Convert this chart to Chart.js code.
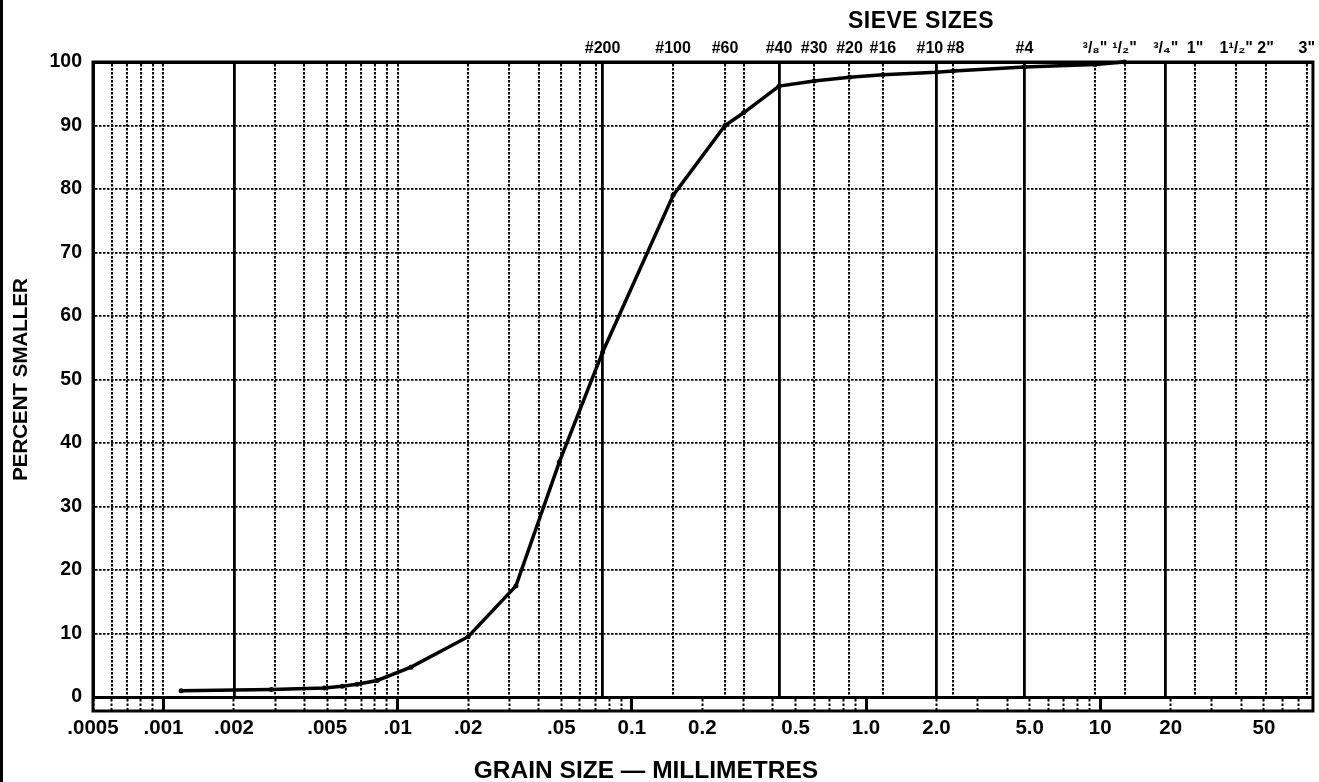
<!DOCTYPE html>
<html>
<head>
<meta charset="utf-8">
<title>Grain size distribution</title>
<script src="https://cdn.jsdelivr.net/npm/chart.js@4.4.1/dist/chart.umd.min.js"></script>
<style>
  html, body { margin: 0; padding: 0; background: #fff; }
  #wrap { position: relative; width: 1319px; height: 782px; }
  #edge { position: absolute; left: 0; top: 0; width: 3px; height: 782px; background: #000; }
  .caption {
    position: absolute;
    font-family: "Liberation Sans", Arial, sans-serif;
    font-weight: bold;
    color: #000;
    white-space: nowrap;
    transform: translate(-50%, -50%);
  }
  #sieve-title { left: 921px; top: 20px; font-size: 23px; letter-spacing: 0.5px; }
  #size-title { left: 646px; top: 770px; font-size: 24.5px; }
</style>
</head>
<body>
<div id="wrap">
  <canvas id="gradation" width="1319" height="782"></canvas>
  <div id="edge"></div>
  <div class="caption" id="sieve-title">SIEVE SIZES</div>
  <div class="caption" id="size-title">GRAIN SIZE — MILLIMETRES</div>
</div>

<script>
// gradation curve: grain diameter (mm) and percent finer by weight
const grainSizes = [0.00119, 0.00289, 0.00486, 0.0058, 0.00671, 0.00818, 0.0114, 0.02, 0.032,
                    0.049, 0.075, 0.15, 0.25, 0.3, 0.425, 0.6, 0.85, 1.18, 2.0, 2.36, 4.75, 9.5, 12.7];
const percentSmaller = [1.0, 1.2, 1.4, 1.7, 2.0, 2.6, 4.7, 9.5, 17.5,
                        37, 54.3, 79, 90, 92, 96.2, 97, 97.6, 98, 98.4, 98.6, 99.2, 99.6, 100];

// millimetre scale along the bottom strip
const mmTicks = [0.0005, 0.0006, 0.0007, 0.0008, 0.0009,
                 0.001, 0.002, 0.003, 0.004, 0.005, 0.006, 0.007, 0.008, 0.009,
                 0.01, 0.02, 0.03, 0.04, 0.05, 0.06, 0.07, 0.08, 0.09,
                 0.1, 0.2, 0.3, 0.4, 0.5, 0.6, 0.7, 0.8, 0.9,
                 1, 2, 3, 4, 5, 6, 7, 8, 9,
                 10, 20, 30, 40, 50, 60, 70];
const mmLabelValues = [0.0005, 0.001, 0.002, 0.005, 0.01, 0.02, 0.05, 0.1, 0.2, 0.5, 1, 2, 5, 10, 20, 50];
const mmLabels = ['.0005', '.001', '.002', '.005', '.01', '.02', '.05', '0.1', '0.2', '0.5',
                  '1.0', '2.0', '5.0', '10', '20', '50'];

// upper grid: fine log lines in the silt/clay range, then the sieve openings
const fineGrid = [0.0006, 0.0007, 0.0008, 0.0009, 0.001,
                  0.002, 0.003, 0.004, 0.005, 0.006, 0.007, 0.008, 0.009,
                  0.01, 0.02, 0.03, 0.04, 0.05, 0.06, 0.07];
const sieveSizes = [0.075, 0.15, 0.25, 0.3, 0.425, 0.6, 0.85, 1.18, 2.0, 2.36, 4.75,
                    9.5, 12.7, 19.05, 25.4, 38.1, 50.8, 76.2];
const sieveLabels = ['#200', '#100', '#60', '', '#40', '#30', '#20', '#16', '#10   ', ' #8', '#4',
                     '³/₈"', '¹/₂"', '³/₄"', '1"', '1¹/₂"', '2"', '3"'];
const heavyLines = [0.002, 0.075, 0.425, 2.0, 4.75, 19.05];

const percentTicks = [0, 10, 20, 30, 40, 50, 60, 70, 80, 90, 100];

const X_MIN = 0.0005, X_MAX = 81;
const STRIP = 14;          // height of the millimetre strip under the grid
const FONT = '"Liberation Sans", Arial, sans-serif';
const DOTS = [2.5, 1.5];

const isDecade = v => Math.abs(Math.log10(v) - Math.round(Math.log10(v))) < 1e-9;
const isHeavy = v => heavyLines.some(h => Math.abs(h - v) < 1e-9);

// outline round the grid and the strip below it
const stripFrame = {
    id: 'stripFrame',
    afterDraw(chart) {
        const { ctx, chartArea: a } = chart;
        ctx.save();
        ctx.strokeStyle = '#000';
        ctx.lineWidth = 3;
        ctx.strokeRect(a.left, a.top, a.right - a.left, a.bottom + STRIP - a.top);
        ctx.restore();
    }
};

const points = grainSizes.map((d, i) => ({ x: d, y: percentSmaller[i] }));

new Chart(document.getElementById('gradation'), {
    type: 'scatter',
    data: {
        datasets: [{
            data: points,
            showLine: true,
            borderColor: '#000',
            borderWidth: 3.5,
            pointRadius: 2.5,
            pointBackgroundColor: '#000',
            pointBorderWidth: 0,
            tension: 0,
            clip: 6
        }]
    },
    options: {
        responsive: false,
        animation: false,
        layout: { padding: { left: 0, right: 4, top: 0, bottom: 0 } },
        plugins: {
            legend: { display: false },
            tooltip: { enabled: false }
        },
        scales: {
            x: {
                type: 'logarithmic',
                position: 'bottom',
                min: X_MIN,
                max: X_MAX,
                afterBuildTicks: axis => { axis.ticks = mmTicks.map(v => ({ value: v })); },
                afterFit: axis => { axis.height = 85; },
                grid: {
                    drawOnChartArea: false,
                    drawTicks: true,
                    tickLength: STRIP,
                    tickColor: '#000',
                    tickWidth: c => (c.tick && isDecade(c.tick.value)) ? 3 : 2,
                    tickBorderDash: c => (c.tick && isDecade(c.tick.value)) ? [] : [2.5, 2]
                },
                border: { color: '#000', width: 3 },
                ticks: {
                    autoSkip: false,
                    maxRotation: 0,
                    padding: 5,
                    color: '#000',
                    font: { family: FONT, size: 20.5, weight: 'bold' },
                    callback: value => {
                        const i = mmLabelValues.findIndex(v => Math.abs(v - value) < 1e-9);
                        return i < 0 ? '' : mmLabels[i];
                    }
                }
            },
            sieve: {
                type: 'logarithmic',
                axis: 'x',
                position: 'top',
                min: X_MIN,
                max: X_MAX,
                afterBuildTicks: axis => {
                    axis.ticks = fineGrid.concat(sieveSizes).map(v => ({ value: v }));
                },
                afterFit: axis => { axis.height = 62; },
                grid: {
                    drawTicks: false,
                    color: '#000',
                    lineWidth: c => (c.tick && isHeavy(c.tick.value)) ? 2.8 : 2
                },
                border: {
                    color: '#000',
                    width: 3,
                    dash: c => (c.tick && !isHeavy(c.tick.value)) ? DOTS : []
                },
                ticks: {
                    autoSkip: false,
                    maxRotation: 0,
                    padding: 4,
                    color: '#000',
                    font: { family: FONT, size: 16, weight: 'bold' },
                    callback: value => {
                        const i = sieveSizes.findIndex(v => Math.abs(v - value) < 1e-9);
                        return i < 0 ? '' : sieveLabels[i];
                    }
                }
            },
            y: {
                min: 0,
                max: 100,
                afterBuildTicks: axis => { axis.ticks = percentTicks.map(v => ({ value: v })); },
                afterFit: axis => { axis.width = 93; },
                grid: {
                    drawTicks: false,
                    color: '#000',
                    lineWidth: c => (c.tick && c.tick.value > 0 && c.tick.value < 100) ? 1.8 : 0
                },
                border: {
                    color: '#000',
                    width: 3,
                    dash: c => c.tick ? DOTS : []
                },
                ticks: {
                    padding: 11,
                    color: '#000',
                    font: { family: FONT, size: 19.5, weight: 'bold' }
                },
                title: {
                    display: true,
                    text: 'PERCENT SMALLER',
                    color: '#000',
                    padding: { top: 9, bottom: 0 },
                    font: { family: FONT, size: 20.5, weight: 'bold' }
                }
            }
        }
    },
    plugins: [stripFrame]
});
</script>
</body>
</html>
